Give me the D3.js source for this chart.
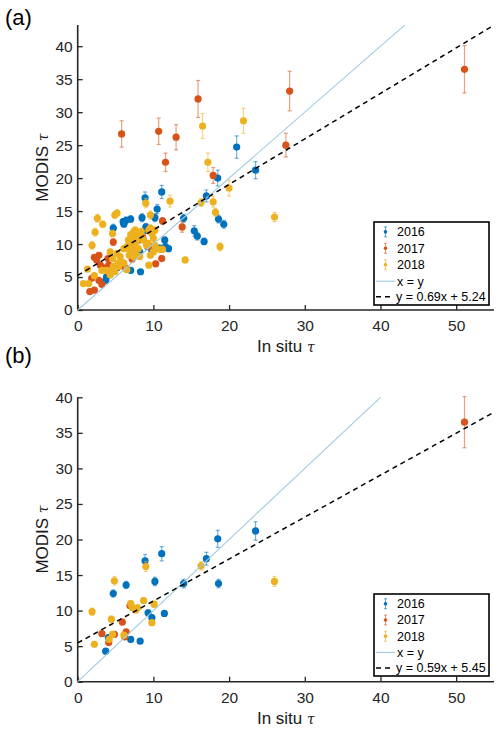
<!DOCTYPE html>
<html><head><meta charset="utf-8">
<script src="https://cdn.jsdelivr.net/npm/d3@7/dist/d3.min.js"></script>
<style>
body{margin:0;background:#fff;}
svg{display:block;font-family:"Liberation Sans",Arial,Helvetica,sans-serif;}
</style></head><body>
<svg id="chart" width="500" height="731"></svg>
<script>
// ---------- data: [in situ tau, MODIS tau, error] ----------
const years = ["2016", "2017", "2018"];
const colors = ["#0072BD", "#D95319", "#EDB120"];
const xTicks = [0, 10, 20, 30, 40, 50];
const yTicksA = [0, 5, 10, 15, 20, 25, 30, 35, 40];
const yTicksB = [0, 5, 10, 15, 20, 25, 30, 35, 40];
const fitA = [0.69, 5.24];
const fitB = [0.59, 5.45];
const fitLabelA = "y = 0.69x + 5.24";
const fitLabelB = "y = 0.59x + 5.45";

const a2016 = [[21.0,24.7,1.7],[23.5,21.2,1.3],[18.5,20.0,1.2],[17.0,17.3,0.9],[11.1,17.9,1.0],[8.9,17.0,0.9],[10.5,15.3,0.7],[10.2,14.0,0.6],[8.5,14.0,0.6],[7.0,13.8,0.5],[6.4,13.6,0.5],[6.0,13.4,0.4],[6.1,13.0,0.4],[4.7,12.4,0.6],[14.0,13.9,0.6],[15.4,12.0,0.8],[15.8,11.2,0.6],[16.7,10.4,0.5],[18.6,13.8,0.6],[19.3,13.0,0.6],[11.5,10.6,0.5],[12.0,9.3,0.4],[11.6,9.6,0.4],[9.0,12.6,0.5],[9.1,12.1,0.5],[7.0,6.0,0.3],[8.3,5.8,0.3],[4.0,6.3,0.3],[3.7,4.5,0.3],[3.8,5.0,0.3],[9.25,9.6,0.4],[8.2,8.8,0.4],[5.2,6.4,0.3],[9.8,9.0,0.4],[7.4,10.8,0.4],[10.8,9.4,0.4]];
const a2017 = [[5.8,26.7,2.0],[10.7,27.1,2.0],[13.0,26.2,1.9],[11.6,22.4,1.4],[15.9,32.0,2.8],[28.0,33.2,3.0],[27.5,25.0,1.8],[17.9,20.4,1.2],[51.1,36.5,3.6],[13.8,12.6,0.8],[11.2,13.5,0.5],[1.6,2.8,0.2],[2.2,3.0,0.2],[3.2,3.9,0.3],[1.85,4.8,0.3],[2.2,8.0,0.4],[2.8,8.3,0.4],[2.5,7.6,0.4],[3.0,6.8,0.3],[4.0,7.8,0.4],[4.1,6.8,0.3],[4.7,10.3,0.5],[6.1,6.6,0.3],[6.4,6.3,0.3],[7.2,7.7,0.4],[8.0,10.6,0.5],[9.9,9.3,0.4],[10.3,7.0,0.4],[11.1,7.8,0.4],[4.1,5.8,0.3],[2.8,4.5,0.3],[8.6,11.0,0.5],[7.6,11.8,0.5],[9.5,9.7,0.4],[3.5,6.4,0.3]];
const a2018 = [[16.5,27.9,1.9],[21.9,28.7,1.9],[17.2,22.4,1.4],[20.0,18.5,1.2],[16.3,16.3,0.6],[17.9,16.4,0.8],[18.2,14.8,0.6],[18.8,9.6,0.6],[26.0,14.1,0.7],[12.2,16.5,0.9],[9.0,16.2,0.7],[14.2,7.6,0.4],[2.6,13.9,0.6],[3.3,13.0,0.5],[2.3,11.8,0.6],[1.9,9.8,0.6],[4.9,14.4,0.5],[5.2,14.7,0.5],[4.6,11.6,0.5],[1.3,6.2,0.3],[0.75,4.0,0.3],[1.45,4.0,0.3],[2.2,5.2,0.3],[3.2,6.0,0.3],[9.6,14.4,0.6],[9.4,12.1,0.5],
 [4.3,8.8,0.4],[5.2,8.6,0.4],[5.6,8.1,0.4],[6.1,9.3,0.4],[6.5,9.6,0.4],[5.8,7.3,0.4],[5.3,7.1,0.4],[4.7,6.6,0.3],[4.5,6.1,0.3],[6.5,6.1,0.3],[6.1,7.1,0.4],[6.7,10.6,0.5],[7.0,11.4,0.5],[7.4,11.9,0.5],[7.6,12.1,0.5],[7.1,10.1,0.4],[7.8,10.6,0.5],[8.2,11.1,0.5],[8.7,10.6,0.5],[9.3,10.1,0.4],[9.8,11.6,0.5],[10.0,10.9,0.5],[9.6,12.4,0.5],[10.2,12.1,0.5],[10.4,9.3,0.4],[10.9,9.2,0.4],[11.2,9.2,0.4],[10.0,8.8,0.4],[9.6,8.3,0.4],[9.4,6.8,0.3],[8.2,8.1,0.4],[7.6,8.8,0.4],[7.4,8.1,0.4],[6.8,8.3,0.4],[5.4,6.6,0.3],[4.9,5.8,0.3],[4.3,5.3,0.3],[3.8,6.0,0.3],[4.6,7.8,0.4],[7.6,10.1,0.4],[8.0,9.3,0.4],[8.4,11.9,0.5],[9.1,9.8,0.4],[10.2,9.8,0.4],[7.4,9.6,0.4],[7.2,11.0,0.5],[8.0,11.5,0.5],[6.9,9.0,0.4]];

const b2016 = [[23.5,21.2,1.3],[18.5,20.1,1.2],[17.0,17.3,0.9],[11.1,18.0,1.0],[8.9,17.0,0.9],[10.2,14.1,0.6],[6.4,13.6,0.5],[4.7,12.4,0.5],[14.0,13.8,0.6],[18.6,13.8,0.6],[9.3,9.7,0.4],[9.8,9.0,0.4],[11.45,9.6,0.4],[7.0,5.95,0.3],[8.25,5.7,0.3],[4.05,6.2,0.3],[3.7,4.3,0.3]];
const b2017 = [[51.1,36.5,3.6],[3.2,6.75,0.3],[4.85,6.65,0.3],[5.9,8.4,0.4],[6.4,7.0,0.3],[6.2,6.3,0.3],[4.1,5.5,0.3],[6.9,10.7,0.4]];
const b2018 = [[1.9,9.85,0.5],[4.85,14.2,0.6],[9.0,16.2,0.7],[16.3,16.3,0.6],[26.0,14.1,0.7],[2.2,5.25,0.3],[4.45,8.8,0.4],[4.6,6.65,0.3],[4.15,5.95,0.3],[6.1,6.55,0.3],[7.0,11.0,0.4],[7.2,10.45,0.4],[7.65,10.1,0.4],[7.9,10.4,0.4],[8.7,11.4,0.4],[10.1,10.9,0.4],[9.8,8.3,0.4]];

// ---------- drawing ----------
const svg = d3.select("#chart");
const textCol = "#262626";

function panel(cfg) {
  const g = svg.append("g");
  const x = d3.scaleLinear().domain([0, 55]).range([77.7, 494]);
  const y = d3.scaleLinear().domain([0, cfg.ymax]).range([cfg.bottom, cfg.top]);

  const xa = g.append("g").attr("transform", `translate(0,${cfg.bottom})`)
    .call(d3.axisBottom(x).tickValues(xTicks).tickSizeInner(-5).tickSizeOuter(0).tickPadding(10));
  const ya = g.append("g").attr("transform", `translate(${x(0)},0)`)
    .call(d3.axisLeft(y).tickValues(cfg.yTicks).tickSizeInner(-5).tickSizeOuter(0).tickPadding(5));
  [xa, ya].forEach(a => {
    a.select(".domain").attr("stroke", textCol).attr("stroke-width", 1.6);
    a.selectAll(".tick line").attr("stroke", textCol).attr("stroke-width", 1.3);
    a.selectAll(".tick text").attr("fill", textCol).style("font-size", "15.5px");
  });
  xa.select(".domain").attr("d", `M${x(0)},0H${x(55)}`);
  ya.select(".domain").attr("d", `M0,${y(cfg.ymax)}V${y(0)}`);

  cfg.series.forEach((data, i) => {
    const c = colors[i];
    const s = g.append("g");
    const eb = s.selectAll("g.eb").data(data).enter().append("g")
      .attr("stroke", c).attr("stroke-opacity", 0.55).attr("stroke-width", 1.2);
    eb.append("line").attr("x1", d => x(d[0])).attr("x2", d => x(d[0]))
      .attr("y1", d => y(d[1] - d[2])).attr("y2", d => y(d[1] + d[2]));
    eb.append("line").attr("x1", d => x(d[0]) - 2).attr("x2", d => x(d[0]) + 2)
      .attr("y1", d => y(d[1] + d[2])).attr("y2", d => y(d[1] + d[2]));
    eb.append("line").attr("x1", d => x(d[0]) - 2).attr("x2", d => x(d[0]) + 2)
      .attr("y1", d => y(d[1] - d[2])).attr("y2", d => y(d[1] - d[2]));
    s.selectAll("circle").data(data).enter().append("circle")
      .attr("cx", d => x(d[0])).attr("cy", d => y(d[1])).attr("r", 3.6).attr("fill", c);
  });

  g.append("line").attr("x1", x(0)).attr("y1", y(0)).attr("x2", x(cfg.ymax)).attr("y2", y(cfg.ymax))
    .attr("stroke", "#9fcbdf").attr("stroke-width", 1.1);
  g.append("line").attr("x1", x(0)).attr("y1", y(cfg.fit[1]))
    .attr("x2", x(55)).attr("y2", y(cfg.fit[0] * 55 + cfg.fit[1]))
    .attr("stroke", "#000").attr("stroke-width", 1.5).attr("stroke-dasharray", "5,4");

  g.append("text").attr("x", (x(0) + x(55)) / 2).attr("y", cfg.bottom + 42)
    .attr("text-anchor", "middle").style("font-size", "17px").attr("fill", "#1a1a1a")
    .html('In situ <tspan font-style="italic" font-family="DejaVu Serif" font-size="14px">τ</tspan>');
  g.append("text").attr("transform", `translate(48,${(cfg.top + cfg.bottom) / 2}) rotate(-90)`)
    .attr("text-anchor", "middle").style("font-size", "17px").attr("fill", "#1a1a1a")
    .html('MODIS <tspan font-style="italic" font-family="DejaVu Serif" font-size="14px">τ</tspan>');
  g.append("text").attr("x", 5).attr("y", cfg.panelY).style("font-size", "22px").attr("fill", "#000")
    .text(cfg.name);

  const L = cfg.legend;
  const lg = g.append("g");
  lg.append("rect").attr("x", 374).attr("y", L.top).attr("width", 115).attr("height", L.h)
    .attr("fill", "#fff").attr("stroke", "#000").attr("stroke-width", 1.6);
  const rowH = L.h / 5.05;
  years.forEach((yr, i) => {
    const cy = L.top + rowH * (i + 0.6);
    lg.append("line").attr("x1", 385.5).attr("x2", 385.5).attr("y1", cy - 5).attr("y2", cy + 5)
      .attr("stroke", colors[i]).attr("stroke-opacity", 0.6).attr("stroke-width", 1.1);
    lg.append("line").attr("x1", 384).attr("x2", 387).attr("y1", cy - 5).attr("y2", cy - 5)
      .attr("stroke", colors[i]).attr("stroke-opacity", 0.6);
    lg.append("line").attr("x1", 384).attr("x2", 387).attr("y1", cy + 5).attr("y2", cy + 5)
      .attr("stroke", colors[i]).attr("stroke-opacity", 0.6);
    lg.append("circle").attr("cx", 385.5).attr("cy", cy).attr("r", 1.8).attr("fill", colors[i]);
    lg.append("text").attr("x", 397).attr("y", cy).attr("dy", "0.35em").style("font-size", "12.5px")
      .attr("fill", "#000").text(yr);
  });
  const c3 = L.top + rowH * 3.6, c4 = L.top + rowH * 4.55;
  lg.append("line").attr("x1", 376).attr("x2", 395).attr("y1", c3).attr("y2", c3)
    .attr("stroke", "#9fcbdf").attr("stroke-width", 1.1);
  lg.append("text").attr("x", 397).attr("y", c3).attr("dy", "0.35em").style("font-size", "12.5px").text("x = y");
  lg.append("line").attr("x1", 376).attr("x2", 394).attr("y1", c4).attr("y2", c4)
    .attr("stroke", "#000").attr("stroke-width", 1.5).attr("stroke-dasharray", "5,4");
  lg.append("text").attr("x", 396).attr("y", c4).attr("dy", "0.35em").style("font-size", "12.5px").text(cfg.fitLabel);
}

panel({name: "(a)", panelY: 25, top: 25.1, bottom: 310, ymax: 43.2, yTicks: yTicksA,
  series: [a2016, a2017, a2018], fit: fitA, fitLabel: fitLabelA, legend: {top: 222, h: 83}});
panel({name: "(b)", panelY: 363, top: 397.3, bottom: 681.7, ymax: 40, yTicks: yTicksB,
  series: [b2016, b2017, b2018], fit: fitB, fitLabel: fitLabelB, legend: {top: 594, h: 82}});
</script>
</body></html>
